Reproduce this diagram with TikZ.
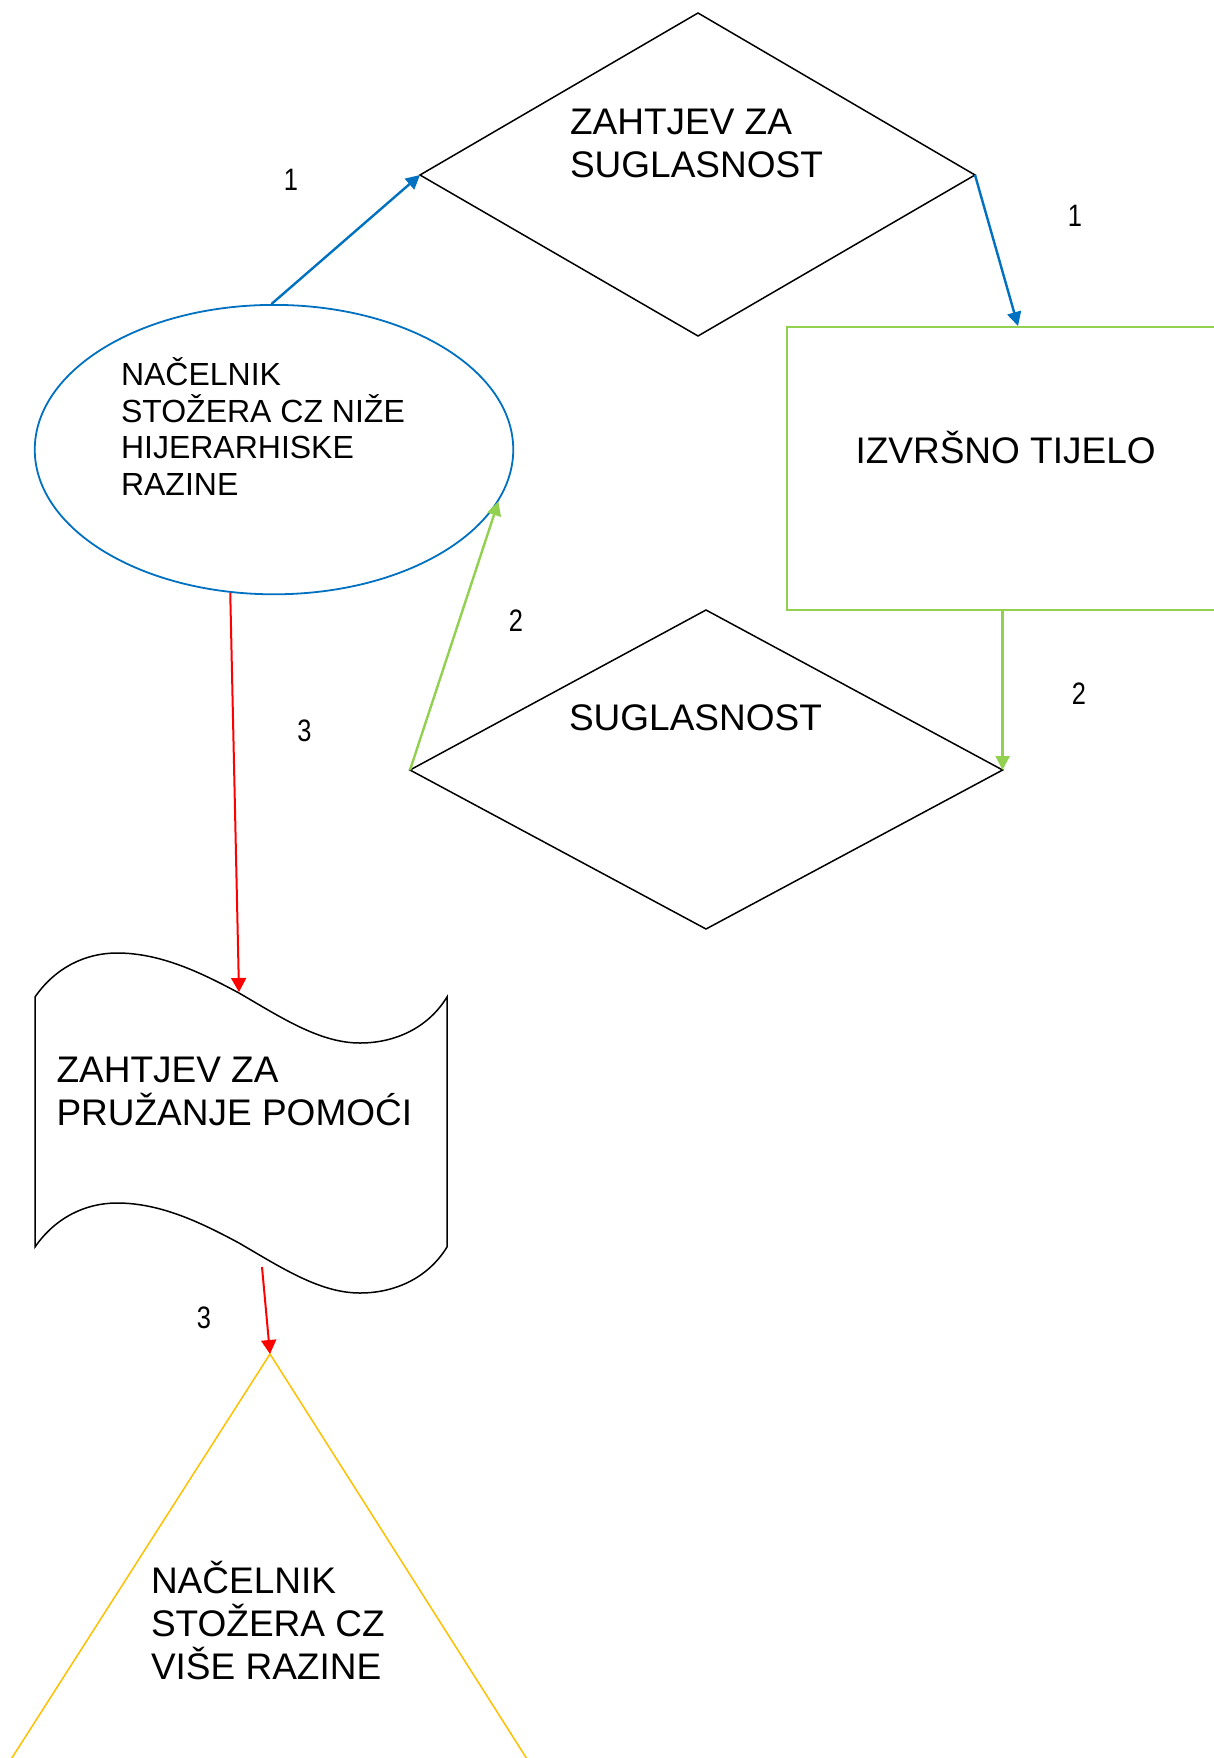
\documentclass[tikz,border=0pt]{standalone}
\usepackage{fontspec}
\setmainfont{Liberation Sans}
\newfontfamily\lblfont[FakeStretch=0.82]{Liberation Sans}
\usetikzlibrary{shapes.geometric,arrows.meta}
\definecolor{cblue}{HTML}{0070C0}
\definecolor{cgreen}{HTML}{92D050}
\definecolor{cred}{HTML}{FF0000}
\definecolor{cyel}{HTML}{FFC000}
\begin{document}
\begin{tikzpicture}[x=1pt,y=-1pt,
  shapeline/.style={draw=black, line width=1.5pt, line join=miter},
  bigtext/.style={inner sep=0pt, outer sep=0pt, align=left, font=\fontsize{37}{43}\selectfont},
  midtext/.style={inner sep=0pt, outer sep=0pt, align=left, font=\fontsize{32}{36.6}\selectfont},
  lbl/.style={inner sep=0pt, font=\lblfont\fontsize{31}{36}\selectfont},
  arr/.style={line width=2.4pt, -{Triangle[length=14pt,width=14pt]}},
  redarr/.style={line width=2pt, draw=cred, -{Triangle[length=14pt,width=15pt]}}
]
\useasboundingbox (0,0) rectangle (1214,1758);
\clip (0,0) rectangle (1214,1758);
\fill[white] (0,0) rectangle (1214,1758);

% top diamond
\coordinate (dAt) at (698,13);
\coordinate (dAl) at (420,175);
\coordinate (dAr) at (975,175);
\coordinate (dAb) at (698,336);
\draw[shapeline] (dAt) -- (dAr) -- (dAb) -- (dAl) -- cycle;
\node[bigtext, anchor=north west] (tA) at (570,94.4) {\rule{0pt}{40pt}ZAHTJEV ZA\\SUGLASNOST};

% ellipse
\node[draw=cblue, line width=1.8pt, ellipse, minimum width=478.5pt, minimum height=289.4pt, inner sep=0pt] (boss) at (274,449.6) {};
\node[midtext, anchor=north west] (bossT) at (121,350.5) {\rule{0pt}{35pt}NAČELNIK\\STOŽERA CZ NIŽE\\HIJERARHISKE\\RAZINE};

% rectangle
\node[draw=cgreen, line width=1.8pt, rectangle, anchor=north west, minimum width=450pt, minimum height=283pt, inner sep=0pt] (exec) at (786,326) {};
\node[bigtext, anchor=north west] (execT) at (855.5,423.4) {\rule{0pt}{40pt}IZVRŠNO TIJELO};
\coordinate (execIn) at (1018,326);
\coordinate (execOut) at (1002.6,609);

% lower diamond
\coordinate (dBt) at (706,610);
\coordinate (dBl) at (410,770);
\coordinate (dBr) at (1002.6,770);
\coordinate (dBb) at (706,929);
\draw[shapeline] (dBt) -- (dBr) -- (dBb) -- (dBl) -- cycle;
\node[bigtext, anchor=north west] (tB) at (569,690) {\rule{0pt}{40pt}SUGLASNOST};

% tape shape
\draw[line width=1.5pt] (35,997) .. controls (55,968) and (85,953) .. (117,953)
  .. controls (160,953) and (200,972) .. (239,993)
  .. controls (282,1018) and (320,1043) .. (360,1043)
  .. controls (395,1043) and (428,1028) .. (447,997)
  -- (447,1247)
  .. controls (428,1278) and (395,1293) .. (360,1293)
  .. controls (320,1293) and (282,1268) .. (239,1243)
  .. controls (200,1222) and (160,1203) .. (117,1203)
  .. controls (85,1203) and (55,1218) .. (35,1247) -- cycle;
\node[bigtext, anchor=north west] (tapeT) at (56.5,1042) {\rule{0pt}{40pt}ZAHTJEV ZA\\PRUŽANJE POMOĆI};
\coordinate (tapeIn) at (239,992);
\coordinate (tapeOut) at (262,1267);

% triangle
\coordinate (triTop) at (270,1354);
\draw[cyel, line width=1.5pt, line join=miter] (-15,1800) -- (triTop) -- (553,1800);
\node[bigtext, anchor=north west, font=\fontsize{37}{43.3}\selectfont] (triT) at (151,1553) {\rule{0pt}{40pt}NAČELNIK\\STOŽERA CZ\\VIŠE RAZINE};

% connectors
\draw[arr, draw=cblue, fill=cblue] (boss.91) -- (dAl);
\draw[arr, draw=cblue, fill=cblue] (dAr) -- (execIn);
\draw[arr, draw=cgreen, fill=cgreen] (execOut) -- (dBr);
\draw[arr, draw=cgreen, fill=cgreen] (dBl) -- (boss.-13);
\draw[redarr, fill=cred] (boss.253.5) -- (tapeIn);
\draw[redarr, fill=cred] (tapeOut) -- (triTop);

% labels
\node[lbl] (l1a) at (291,179.5) {1};
\node[lbl] (l1b) at (1075,216) {1};
\node[lbl] (l2a) at (516,621) {2};
\node[lbl] (l2b) at (1079,693.5) {2};
\node[lbl] (l3a) at (304.5,730.6) {3};
\node[lbl] (l3b) at (204,1318) {3};
\end{tikzpicture}
\end{document}
